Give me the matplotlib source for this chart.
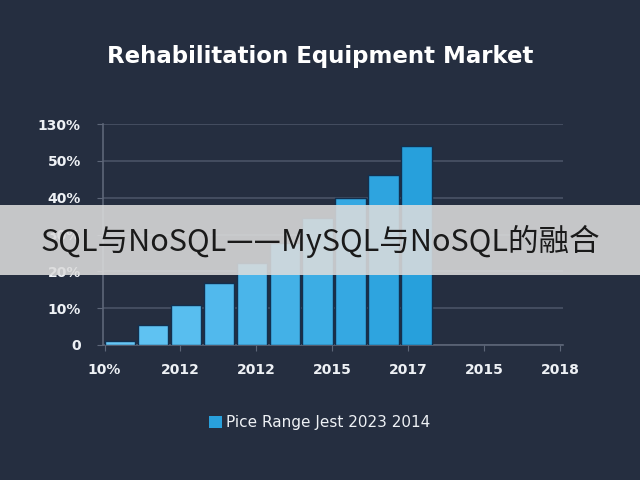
import matplotlib
matplotlib.use("Agg")
import matplotlib.pyplot as plt
import numpy as np
from matplotlib.patches import Rectangle, Patch
from matplotlib.colors import to_rgb

# ---- data ----
bar_values = [1.2, 5.4, 10.8, 16.7, 22.2, 27.6, 34.4, 40.0, 46.1, 54.1]
y_ticks = [0, 10, 20, 30, 40, 50, 60]
y_labels = ['0', '10%', '20%', '30%', '40%', '50%', '130%']
x_labels = ['10%', '2012', '2012', '2015', '2017', '2015', '2018']
title = 'Rehabilitation Equipment Market'
legend_label = 'Pice Range Jest 2023 2014'
banner_text = 'SQL与NoSQL——MySQL与NoSQL的融合'

BG = '#252e40'
fig = plt.figure(figsize=(6.4, 4.8), dpi=100, facecolor=BG)
ax = fig.add_axes([103/640, 1-345/480, (563-103)/640, (345-124)/480])
ax.set_facecolor(BG)

# bar positions (layout)
pitch = 0.434
pos = 0.204 + pitch*np.arange(len(bar_values))
c0, c1 = np.array(to_rgb('#66c6f5')), np.array(to_rgb('#27a0dc'))
cols = [tuple(c0 + (c1-c0)*t) for t in np.linspace(0, 1, len(bar_values))]
ax.bar(pos, bar_values, width=0.40, color=cols, edgecolor='#12304f', linewidth=1.0, zorder=3)

ax.set_ylim(0, 60)
ax.set_xlim(-0.02, 6.04)
ax.set_yticks(y_ticks)
ax.set_yticklabels(y_labels)
ax.set_xticks(np.arange(len(x_labels)))
ax.set_xticklabels(x_labels)
ax.grid(axis='y', color='#4a5366', linewidth=1.2, zorder=0)
ax.set_axisbelow(True)
for s in ['top', 'right']:
    ax.spines[s].set_visible(False)
for s in ['left', 'bottom']:
    ax.spines[s].set_color('#5d6678')
    ax.spines[s].set_linewidth(1.2)
ax.tick_params(axis='y', colors='#5d6678', length=4, pad=12, labelcolor='#eef1f5', labelsize=10)
ax.tick_params(axis='x', colors='#5d6678', length=4, pad=9, labelcolor='#eef1f5', labelsize=10)
for lab in ax.get_xticklabels() + ax.get_yticklabels():
    lab.set_fontweight('bold')

fig.text(0.5, 1-57/480, title, ha='center', va='center', color='white',
         fontsize=16.5, fontweight='bold')

fig.legend(handles=[Patch(facecolor='#29a0dc', edgecolor='none')], labels=[legend_label],
           loc='center', bbox_to_anchor=(0.5, 1-423/480), frameon=False,
           labelcolor='#eef1f5', fontsize=11, handlelength=0.8, handleheight=0.8,
           handletextpad=0.3)

# banner
fig.patches.append(Rectangle((0, 1-275/480), 1, 70/480, transform=fig.transFigure,
                             facecolor='#dcdcdc', alpha=0.88, edgecolor='none', zorder=10))
fig.text(0.5, 1-241/480, banner_text, ha='center', va='center', color='#1a1a1a',
         fontsize=22, family=['Noto Sans CJK SC', 'DejaVu Sans'], zorder=11)

fig.savefig('out.png', dpi=100, facecolor=BG)
